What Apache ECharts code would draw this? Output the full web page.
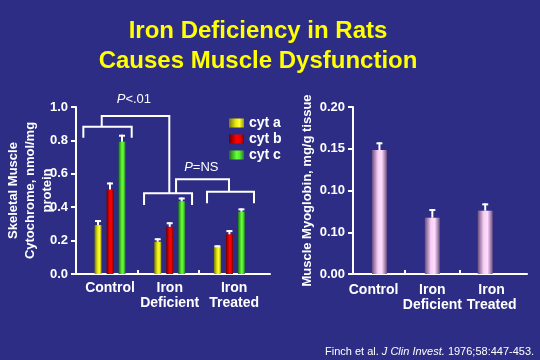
<!DOCTYPE html>
<html><head><meta charset="utf-8">
<script src="https://cdn.jsdelivr.net/npm/echarts@6/dist/echarts.min.js"></script>
<style>html,body{margin:0;padding:0;background:#2d2d86}#c{width:540px;height:360px}</style>
</head><body><div id="c"></div>
<script>
// ---- data ----
const titleText = 'Iron Deficiency in Rats\nCauses Muscle Dysfunction';
const categories = ['Control', 'Iron\nDeficient', 'Iron\nTreated'];
const cytNames = ['cyt a', 'cyt b', 'cyt c'];
const cytA = [0.293, 0.193, 0.163];
const cytAErr = [0.323, 0.214, 0.172];
const cytB = [0.506, 0.283, 0.238];
const cytBErr = [0.548, 0.310, 0.263];
const cytC = [0.792, 0.436, 0.373];
const cytCErr = [0.834, 0.458, 0.393];
const myoglobin = [0.1485, 0.0674, 0.0758];
const myoglobinErr = [0.1577, 0.0778, 0.0846];
const leftYTicks = ['0.0', '0.2', '0.4', '0.6', '0.8', '1.0'];
const rightYTicks = ['0.00', '0.10', '0.10', '0.15', '0.20'];
const leftYName = 'Skeletal Muscle\nCytochrome, nmol/mg\nprotein';
const rightYName = 'Muscle Myoglobin, mg/g tissue';
const sigLabels = ['<.01', '=NS'];

// ---- annotation geometry (data coordinates of left chart) ----
const bracketPaths = [
  [[-0.447, 0.816], [-0.447, 0.882], [0.363, 0.882], [0.363, 0.816]],
  [[-0.139, 0.882], [-0.139, 0.946], [0.993, 0.946], [0.993, 0.483]],
  [[0.570, 0.413], [0.570, 0.483], [1.374, 0.483], [1.374, 0.413]],
  [[1.106, 0.483], [1.106, 0.567], [1.993, 0.567], [1.993, 0.493]],
  [[1.625, 0.423], [1.625, 0.493], [2.412, 0.493], [2.412, 0.423]]
];
const sigLabelPos = [[0.40, 1.046], [1.53, 0.639]];

const FONT = 'Liberation Sans, Arial, sans-serif';
const WHITE = '#ffffff';

function grad(stops) {
  return { type: 'linear', x: 0, y: 0, x2: 1, y2: 0,
    colorStops: stops.map(s => ({ offset: s[0], color: s[1] })) };
}
const cytColors = [
  grad([[0, '#77770a'], [0.45, '#e8e810'], [0.7, '#ffff30'], [1, '#9a9a00']]),
  grad([[0, '#6a0000'], [0.5, '#ff0000'], [0.75, '#ee0000'], [1, '#7a0000']]),
  grad([[0, '#1a6a1a'], [0.5, '#66ff33'], [0.7, '#55ee33'], [1, '#2a7a2a']])
];
const pinkColor = grad([[0, '#6a4a7e'], [0.4, '#f8d0f4'], [0.65, '#ffdcff'], [1, '#6e5080']]);

function errRender(offset) {
  return function (params, api) {
    const x = api.value(0), top = api.value(1), err = api.value(2);
    const p1 = api.coord([x, top]);
    const p2 = api.coord([x, err]);
    const cx = p1[0] + offset;
    return { type: 'group', children: [
      { type: 'rect', shape: { x: cx - 1, y: p2[1], width: 2, height: p1[1] - p2[1] }, style: { fill: WHITE } },
      { type: 'rect', shape: { x: cx - 3, y: p2[1], width: 6, height: 2 }, style: { fill: WHITE } }
    ] };
  };
}

const cytValues = [cytA, cytB, cytC];
const cytErrs = [cytAErr, cytBErr, cytCErr];
const cytOffsets = [-12, 0, 12];

const series = [];
cytValues.forEach((vals, k) => {
  series.push({
    name: cytNames[k], type: 'bar', xAxisIndex: 0, yAxisIndex: 0,
    barWidth: 7, barGap: '71.4%',
    itemStyle: { color: cytColors[k] },
    data: vals.map((v, i) => [i, v])
  });
});
cytValues.forEach((vals, k) => {
  series.push({
    type: 'custom', xAxisIndex: 0, yAxisIndex: 0, z: 5,
    renderItem: errRender(cytOffsets[k]),
    data: vals.map((v, i) => [i, v, cytErrs[k][i]])
  });
});
series.push({
  name: 'myoglobin', type: 'bar', xAxisIndex: 1, yAxisIndex: 1, barWidth: 15,
  itemStyle: { color: pinkColor },
  data: myoglobin.map((v, i) => [i, v])
});
series.push({
  type: 'custom', xAxisIndex: 1, yAxisIndex: 1, z: 5,
  renderItem: errRender(0),
  data: myoglobin.map((v, i) => [i, v, myoglobinErr[i]])
});
series.push({
  type: 'custom', xAxisIndex: 0, yAxisIndex: 0, z: 6, clip: false,
  data: [[0, 0]],
  renderItem: function (params, api) {
    const children = bracketPaths.map(pts => ({
      type: 'polyline',
      shape: { points: pts.map(p => api.coord(p)) },
      style: { stroke: WHITE, lineWidth: 2, fill: null }
    }));
    sigLabelPos.forEach((p, i) => {
      const c = api.coord(p);
      children.push({
        type: 'text', x: c[0], y: c[1],
        style: {
          text: '{i|P}' + sigLabels[i], fill: WHITE, align: 'center', verticalAlign: 'middle',
          font: '13px ' + FONT,
          rich: { i: { fontStyle: 'italic', fontSize: 13, fontFamily: FONT, fill: WHITE } }
        }
      });
    });
    return { type: 'group', children };
  }
});

function xAxisCfg(grid, min, max, tickVals, labelVals, margin) {
  return {
    type: 'value', gridIndex: grid, min: min, max: max,
    splitLine: { show: false },
    axisLine: { show: true, onZero: true, lineStyle: { color: WHITE, width: 2 } },
    axisTick: { show: true, inside: true, length: 4, customValues: tickVals, lineStyle: { color: WHITE, width: 2 } },
    axisLabel: {
      customValues: labelVals, formatter: v => categories[Math.round(v)],
      color: WHITE, fontWeight: 'bold', fontSize: 14, lineHeight: 15, margin: margin, fontFamily: FONT
    }
  };
}
function yAxisCfg(grid, max, interval, ticks, name, nameGap, moveOverlap) {
  return {
    type: 'value', gridIndex: grid, min: 0, max: max, interval: interval,
    splitLine: { show: false },
    axisLine: { show: true, onZero: false, lineStyle: { color: WHITE, width: 2 } },
    axisTick: { show: true, length: 5, lineStyle: { color: WHITE, width: 2 } },
    axisLabel: { formatter: v => ticks[Math.round(v / interval)], color: WHITE, fontWeight: 'bold',
      fontSize: 13, margin: 8, fontFamily: FONT },
    name: name, nameLocation: 'middle', nameRotate: 90, nameGap: nameGap, nameMoveOverlap: moveOverlap,
    nameTextStyle: { color: WHITE, fontWeight: 'bold', fontSize: 13, lineHeight: 17, fontFamily: FONT }
  };
}

const chart = echarts.init(document.getElementById('c'), null, { renderer: 'canvas' });
chart.setOption({
  backgroundColor: '#2d2d86',
  animation: false,
  title: [
    { text: titleText, left: 258, top: 16, textAlign: 'center', padding: 0,
      textStyle: { color: '#ffff00', fontSize: 24, fontWeight: 'bold', lineHeight: 30, fontFamily: FONT } },
    { text: '{n|Finch et al. }{i|J Clin Invest.}{n| 1976;58:447-453.}', left: 325, top: 346, padding: 0,
      textStyle: { fontWeight: 'normal', rich: {
        n: { color: WHITE, fontSize: 11, fontWeight: 'normal', fontFamily: FONT },
        i: { color: WHITE, fontSize: 11, fontWeight: 'normal', fontFamily: FONT, fontStyle: 'italic' } } } }
  ],
  legend: {
    data: cytNames, orient: 'vertical', left: 229, top: 116, padding: 0,
    itemWidth: 15, itemHeight: 9, itemGap: 2, icon: 'rect',
    textStyle: { color: WHITE, fontWeight: 'bold', fontSize: 14, fontFamily: FONT }
  },
  grid: [
    { left: 76, right: 270, top: 107, bottom: 86 },
    { left: 353, right: 13, top: 107, bottom: 86 }
  ],
  xAxis: [
    xAxisCfg(0, -0.57, 2.68, [0.47, 1.49], [0, 1, 2.08], 7),
    xAxisCfg(1, -0.5, 2.79, [0.47, 1.52], [-0.11, 1, 2.12], 9)
  ],
  yAxis: [
    yAxisCfg(0, 1.0, 0.2, leftYTicks, leftYName, 20, false),
    yAxisCfg(1, 0.2, 0.05, rightYTicks, rightYName, 36, true)
  ],
  series: series
});
</script>
</body></html>
